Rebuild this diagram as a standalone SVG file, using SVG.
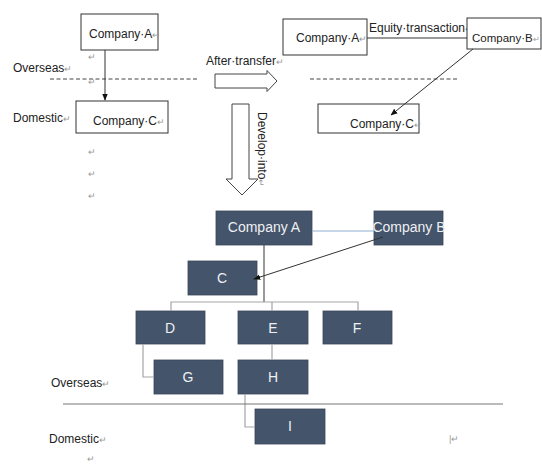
<svg xmlns="http://www.w3.org/2000/svg" width="542" height="465" viewBox="0 0 542 465">
<style>
text{font-family:"Liberation Sans",Arial,sans-serif;fill:#222;font-size:12px}
.m{fill:#999;font-size:9px}
.box{fill:#fff;stroke:#333;stroke-width:1}
.dk{fill:#44546a;stroke:#3a475a;stroke-width:0.8}
.wt{fill:#eef0f3;font-size:14px;text-anchor:middle}
.ln{stroke:#333;stroke-width:1;fill:none}
.gl{stroke:#a5a5a5;stroke-width:1.2;fill:none}
.dash{stroke:#444;stroke-width:1;stroke-dasharray:4 2.5;fill:none}
.blk{fill:#fff;stroke:#444;stroke-width:1}
</style>
<defs>
<marker id="ah" viewBox="0 0 10 10" refX="9" refY="5" markerWidth="7" markerHeight="7" orient="auto"><path d="M0,1 L10,5 L0,9 z" fill="#111"/></marker>
</defs>
<rect width="542" height="465" fill="#fff"/>
<g id="labels">
<text x="13" y="72">Overseas<tspan class="m">↵</tspan></text>
<text x="13" y="122">Domestic<tspan class="m">↵</tspan></text>
<text class="m" x="88" y="60">↵</text>
<text class="m" x="88" y="85">↵</text>
<text class="m" x="88" y="155">↵</text>
<text class="m" x="88" y="177">↵</text>
<text class="m" x="88" y="199">↵</text>
<text x="206" y="65">After·transfer<tspan class="m">↵</tspan></text>
<text x="369" y="32">Equity·transaction<tspan class="m">↵</tspan></text>
<text transform="translate(258,112) rotate(90)">Develop·into<tspan class="m">↵</tspan></text>
<text x="51" y="387">Overseas<tspan class="m">↵</tspan></text>
<text x="49" y="443">Domestic<tspan class="m">↵</tspan></text>
<text class="m" x="87" y="462">↵</text>
<text class="m" x="449" y="442">|↵</text>
</g>
<g id="top-company-a"><rect class="box" x="81" y="14" width="77" height="36"/><text x="89" y="38">Company·A<tspan class="m">↵</tspan></text></g>
<g id="top-company-c"><rect class="box" x="76" y="101" width="92" height="32"/><text x="93" y="125">Company·C<tspan class="m">↵</tspan></text></g>
<g id="after-company-a"><rect class="box" x="283" y="19" width="84" height="36"/><text x="296" y="42">Company·A<tspan class="m">↵</tspan></text></g>
<g id="after-company-b"><rect class="box" x="467" y="18" width="74" height="31"/><text x="472" y="42" style="font-size:11.5px">Company·B<tspan class="m" style="font-size:8px">↵</tspan></text></g>
<g id="after-company-c"><rect class="box" x="318" y="104" width="101" height="29"/><text x="350" y="128">Company·C<tspan class="m">↵</tspan></text></g>
<g id="node-a"><rect class="dk" x="216" y="211" width="96" height="34"/><text class="wt" x="264" y="232">Company A</text></g>
<g id="node-b"><rect class="dk" x="374" y="211" width="69" height="34"/><text class="wt" x="409" y="232">Company B</text></g>
<g id="node-c"><rect class="dk" x="188" y="261" width="69" height="34"/><text class="wt" x="222" y="283">C</text></g>
<g id="node-d"><rect class="dk" x="136" y="311" width="69" height="33"/><text class="wt" x="170" y="333">D</text></g>
<g id="node-e"><rect class="dk" x="238" y="311" width="70" height="33"/><text class="wt" x="273" y="333">E</text></g>
<g id="node-f"><rect class="dk" x="323" y="311" width="69" height="33"/><text class="wt" x="357" y="333">F</text></g>
<g id="node-g"><rect class="dk" x="154" y="360" width="69" height="34"/><text class="wt" x="188" y="382">G</text></g>
<g id="node-h"><rect class="dk" x="238" y="360" width="70" height="34"/><text class="wt" x="273" y="382">H</text></g>
<g id="node-i"><rect class="dk" x="255" y="409" width="70" height="35"/><text class="wt" x="290" y="431">I</text></g>
<g id="connectors">
<line class="dash" x1="50" y1="79" x2="197" y2="79"/>
<line class="dash" x1="310" y1="79" x2="457" y2="79"/>
<line class="ln" x1="105" y1="50" x2="105" y2="100" marker-end="url(#ah)"/>
<line class="ln" x1="367" y1="38" x2="467" y2="38"/>
<line class="ln" x1="473" y1="49" x2="391" y2="115" marker-end="url(#ah)"/>
<path class="blk" d="M215,74 H267 V70.5 L277,81 L267,91.5 V88 H215 Z"/>
<path class="blk" d="M232,104 H249 V179 H258 L242,195 L226,179 H232 Z"/>
<line x1="312" y1="231" x2="374" y2="231" stroke="#8fb0d0" stroke-width="1.2"/>
<line x1="264" y1="245" x2="264" y2="302" stroke="#555" stroke-width="1.2"/>
<path class="gl" d="M171,311 V302 H358 V311 M272,302 V311"/>
<path class="gl" d="M143,344 V377 H154"/>
<path class="gl" d="M272,344 V360"/>
<path class="gl" d="M245,394 V427 H255"/>
<line x1="63" y1="404" x2="503" y2="404" stroke="#777" stroke-width="1.2"/>
<line class="ln" x1="383" y1="237" x2="254" y2="279" marker-end="url(#ah)"/>
</g>
</svg>
